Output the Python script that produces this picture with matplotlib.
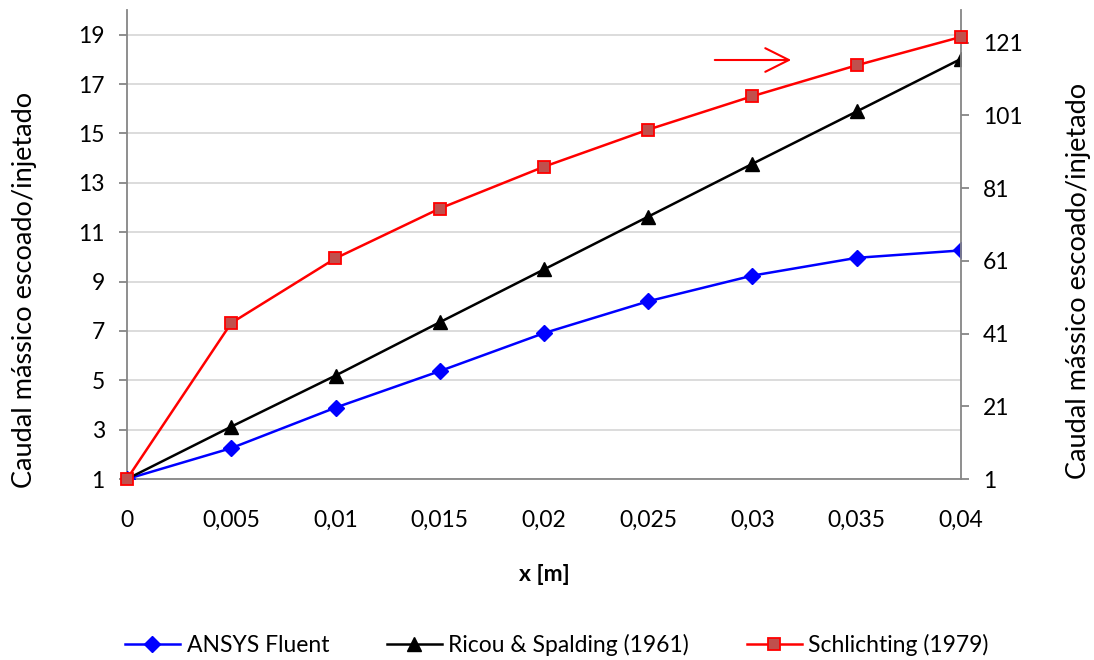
import matplotlib
matplotlib.use("Agg")
import matplotlib.pyplot as plt

plt.rcParams["font.family"] = ["Lato", "DejaVu Sans"]

# Distance along the jet [m]
x = [0, 0.005, 0.01, 0.015, 0.02, 0.025, 0.03, 0.035, 0.04]
x_labels = ["0", "0,005", "0,01", "0,015", "0,02", "0,025", "0,03", "0,035", "0,04"]

# Entrained / injected mass flow ratio
ansys_fluent = [1.0, 2.25, 3.89, 5.37, 6.91, 8.20, 9.24, 9.96, 10.26]
ricou_spalding = [1.0, 3.12, 5.19, 7.35, 9.49, 11.63, 13.77, 15.89, 18.02]
schlichting = [1.0, 43.9, 61.7, 75.4, 86.9, 97.1, 106.3, 114.8, 122.6]  # secondary axis

left_ticks = [1, 3, 5, 7, 9, 11, 13, 15, 17, 19]
right_ticks = [1, 21, 41, 61, 81, 101, 121]

W, H = 1094, 660
fig = plt.figure(figsize=(W / 100, H / 100), dpi=100)
ax = fig.add_axes([127 / W, 1 - 479 / H, 834 / W, 469 / H])
ax2 = ax.twinx()

axis_grey = "#868686"
grid_grey = "#D9D9D9"
fs = 16.5

l1, = ax.plot(x, ansys_fluent, color="#0000FF", lw=1.8, marker="D", ms=8,
              mfc="#0000FF", mec="#0000FF", label="ANSYS Fluent", zorder=3)
l2, = ax.plot(x, ricou_spalding, color="black", lw=1.8, marker="^", ms=10,
              mfc="black", mec="black", label="Ricou & Spalding (1961)", zorder=3)
l3, = ax2.plot(x, schlichting, color="#FF0000", lw=1.8, marker="s", ms=8.5,
               mfc="#C0504D", mec="#FF0000", mew=1.3, label="Schlichting (1979)",
               zorder=3, clip_on=False)

ax.set_xlim(0, 0.04)
ax.set_ylim(1, 20)
ax2.set_ylim(1, 130)

ax.set_xticks(x)
ax.set_xticklabels(x_labels)
ax.set_yticks(left_ticks)
ax2.set_yticks(right_ticks)

ax.grid(axis="y", color=grid_grey, lw=1.3, zorder=0)
ax.set_axisbelow(True)

for a in (ax, ax2):
    a.spines["top"].set_visible(False)
    for s in ("left", "right", "bottom"):
        a.spines[s].set_color(axis_grey)
        a.spines[s].set_linewidth(1.3)
    a.tick_params(axis="y", colors=axis_grey, labelcolor="black", labelsize=fs,
                  length=6, width=1.3, direction="out")
ax.tick_params(axis="x", length=0, labelsize=fs, pad=22, labelcolor="black")
ax.tick_params(axis="y", pad=10)
ax2.tick_params(axis="y", pad=10)
ax2.spines["left"].set_visible(False)
ax2.spines["bottom"].set_visible(False)
ax.spines["right"].set_visible(False)

ax.set_ylabel("Caudal mássico escoado/injetado", fontsize=19.5)
ax2.set_ylabel("Caudal mássico escoado/injetado", fontsize=19.5)
ax.yaxis.set_label_coords(-90 / 834, 0.403)
ax2.yaxis.set_label_coords(1 + 105 / 834, 0.422)
ax.set_xlabel("x [m]", fontsize=fs, fontweight="bold", labelpad=24)

# Arrow indicating the series that belongs to the right axis
ax.annotate("", xy=(794 / W, 1 - 60 / H), xytext=(712 / W, 1 - 60 / H),
            xycoords="figure fraction", textcoords="figure fraction",
            arrowprops=dict(arrowstyle="->,head_length=0.5,head_width=0.25",
                            color="#FF0000", lw=1.5, mutation_scale=34))

fig.legend(handles=[l1, l2, l3], loc="center", bbox_to_anchor=(0.509, 1 - 645 / H),
           ncol=3, frameon=False, fontsize=fs, handlelength=2.4,
           columnspacing=2.5, handletextpad=0.3)

fig.savefig("out.png", dpi=100)
